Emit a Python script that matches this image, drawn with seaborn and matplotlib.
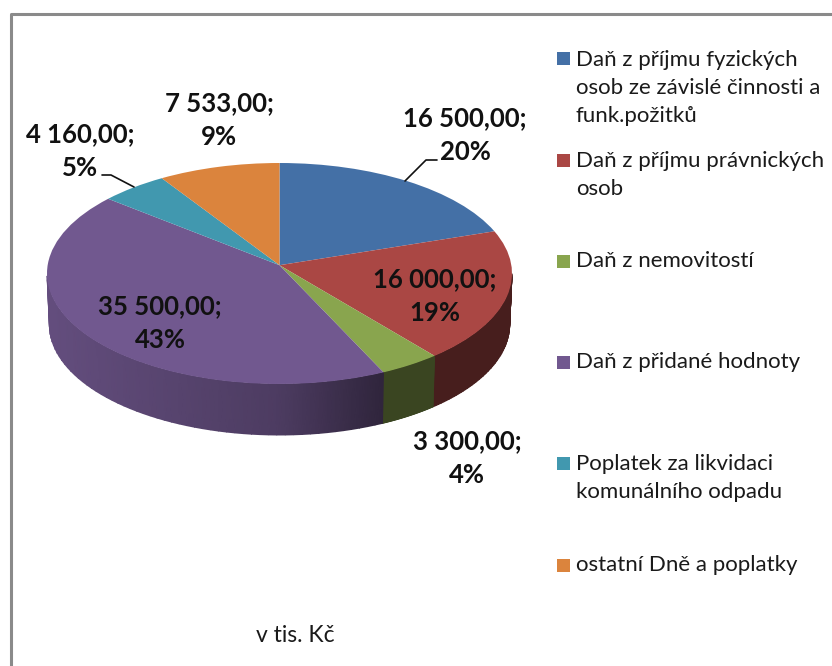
import numpy as np
import matplotlib
matplotlib.use('Agg')
import matplotlib.pyplot as plt
from matplotlib.patches import Rectangle
from matplotlib.transforms import Transform
import seaborn as sns

categories = ['Daň z příjmu fyzických\nosob ze závislé činnosti a\nfunk.požitků',
              'Daň z příjmu právnických\nosob',
              'Daň z nemovitostí',
              'Daň z přidané hodnoty',
              'Poplatek za likvidaci\nkomunálního odpadu',
              'ostatní Dně a poplatky']
values = [16500, 16000, 3300, 35500, 4160, 7533]
value_labels = ['16 500,00;\n20%', '16 000,00;\n19%', '3 300,00;\n4%',
                '35 500,00;\n43%', '4 160,00;\n5%', '7 533,00;\n9%']
colors = ['#4470a6', '#aa4744', '#89a54e', '#71588f', '#4198af', '#db843d']
note = 'v tis. Kč'

W, H = 832, 666
sns.set_theme(style='white')
plt.rcParams['font.family'] = ['Lato', 'DejaVu Sans']

fig = plt.figure(figsize=(W / 100, H / 100), dpi=100, facecolor='white')


def fx(x):
    return x / W


def fy(y):
    return 1 - y / H


# tilt of the pie: unit circle goes to an ellipse, centre moves up a bit
K = -0.075


def tilt(u, v):
    d = 1 - K * v
    return np.sqrt(1 - K * K) * u / d, (v - K) / d


class Tilt(Transform):
    input_dims = output_dims = 2

    def transform_non_affine(self, xy):
        xy = np.asarray(xy)
        return np.column_stack(tilt(xy[:, 0], xy[:, 1]))


left, right, top, bottom = 47, 512, 163, 384
ax = fig.add_axes([fx(left), fy(bottom), (right - left) / W, (bottom - top) / H])
wedges, _ = ax.pie(values, colors=colors, startangle=90, counterclock=False, radius=1,
                   wedgeprops={'linewidth': 0})
ax.set_aspect('auto')
ax.set_xlim(-1, 1)
ax.set_ylim(-1, 1)
ax.axis('off')
for w in wedges:
    w.set_transform(Tilt() + ax.transData)
    w.set_clip_on(False)
    w.set_zorder(3)

# side wall, gouraud mesh per wedge, gets darker towards the right
depth = 51 / ((bottom - top) / 2)
for w, c in zip(wedges, colors):
    th = np.radians(np.linspace(w.theta1, w.theta2, 80))
    x, y = tilt(np.cos(th), np.sin(th))
    keep = y <= 0
    if keep.sum() < 2:
        continue
    x, y = x[keep], y[keep]
    shade = np.interp(x, [-1, 0, 0.45, 1], [0.88, 0.68, 0.42, 0.42])
    rgb = np.outer(shade, matplotlib.colors.to_rgb(c))
    X = np.vstack([x, x * 0.99])
    Y = np.vstack([y, y - depth])
    C = np.stack([rgb, rgb])
    ax.pcolormesh(X, Y, C, shading='gouraud', zorder=1, clip_on=False)

# frame, runs off the right and bottom of the picture
fig.add_artist(plt.Line2D([fx(11), fx(11), fx(W + 5)], [fy(H + 5), fy(13.5), fy(13.5)],
                          color='#8a8a8a', lw=2.2))

# data labels
label_pos = [(465, 135), (435, 296), (467, 458), (160, 323), (80, 151), (219, 120)]
for txt, (x, y) in zip(value_labels, label_pos):
    fig.text(fx(x), fy(y), txt, ha='center', va='center', fontsize=18.5, fontweight='bold',
             color='#111111', linespacing=1.5)

# leader lines
fig.add_artist(plt.Line2D([fx(102), fx(111), fx(134)], [fy(175), fy(175), fy(187)],
                          color='#111111', lw=1.2))
fig.add_artist(plt.Line2D([fx(437), fx(426), fx(405)], [fy(160), fy(160), fy(181)],
                          color='#111111', lw=1.2))

# legend, gaps are uneven so it is placed by hand
legend_y = [87.5, 175, 261, 362, 478, 565]
for name, c, y in zip(categories, colors, legend_y):
    first_line = y - name.count('\n') * 14.5
    fig.add_artist(Rectangle((fx(557), fy(first_line + 6.5)), 13 / W, 13 / H,
                             transform=fig.transFigure, facecolor=c, edgecolor='none'))
    fig.text(fx(576), fy(y), name, ha='left', va='center', fontsize=16, color='#1a1a1a',
             linespacing=1.5)

fig.text(fx(295), fy(636), note, ha='center', va='center', fontsize=16.5, color='#1a1a1a')

fig.savefig('out.png', dpi=100)
